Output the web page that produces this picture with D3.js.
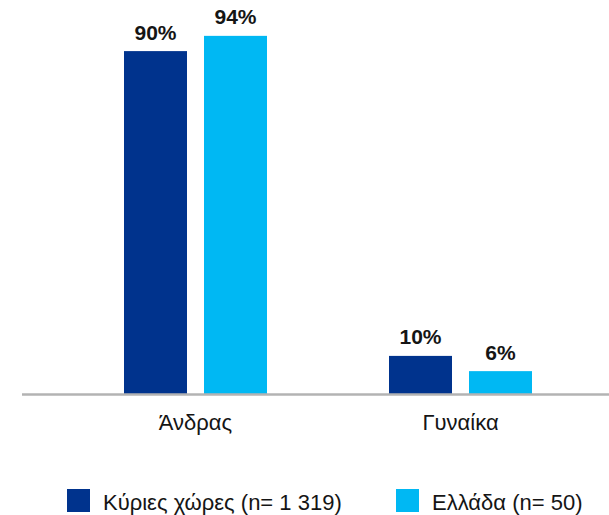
<!DOCTYPE html>
<html>
<head>
<meta charset="utf-8">
<script src="https://cdn.jsdelivr.net/npm/d3@7"></script>
<style>
	body { margin: 0; background: #fff; }
	svg { display: block; font-family: "Liberation Sans", Arial, Helvetica, sans-serif; }
</style>
</head>
<body>
<svg id="svg"></svg>
<script>
const categories = ['Άνδρας', 'Γυναίκα']
const seriesNames = ['Κύριες χώρες (n= 1 319)', 'Ελλάδα (n= 50)']
const mainValues = [90, 10]
const greeceValues = [94, 6]
const colors = ['#00338d', '#00b8f3']

const width = 609, height = 515
const baseY = 394

const svg = d3.select('#svg')
	.attr('width', width)
	.attr('height', height)

// data per group
const data = categories.map((c, i) => ({
	cat: c,
	vals: [
		{s: 0, v: mainValues[i]},
		{s: 1, v: greeceValues[i]}
	]
}))

// scales
const x = d3.scaleBand().domain(categories).range([63, 593])
const xs = d3.scaleBand().domain([0, 1])
	.range([61, 204])
	.paddingInner(17 / 80)
const y = d3.scaleLinear().domain([0, 100]).range([baseY, 13])

const groups = svg.selectAll('g.grp')
	.data(data).enter()
	.append('g')
	.attr('class', 'grp')
	.attr('transform', d => `translate(${x(d.cat)},0)`)

groups.selectAll('rect')
	.data(d => d.vals).enter()
	.append('rect')
	.attr('x', d => xs(d.s))
	.attr('y', d => y(d.v))
	.attr('width', xs.bandwidth())
	.attr('height', d => y(0) - y(d.v))
	.attr('fill', d => colors[d.s])

groups.selectAll('text.val')
	.data(d => d.vals).enter()
	.append('text')
	.attr('class', 'val')
	.attr('x', d => xs(d.s) + xs.bandwidth() / 2)
	.attr('y', d => y(d.v) - 11.5)
	.attr('text-anchor', 'middle')
	.attr('font-weight', 'bold')
	.attr('font-size', 21)
	.attr('fill', '#151515')
	.text(d => d.v + '%')

// category axis
const xAxis = svg.append('g')
	.attr('transform', `translate(0,${baseY})`)
	.call(d3.axisBottom(x).tickSize(0).tickPadding(0))
xAxis.select('.domain').remove()
xAxis.selectAll('text')
	.attr('dy', null)
	.attr('y', 36)
	.attr('font-size', 22)
	.attr('font-family', null)
	.attr('fill', '#151515')
svg.append('line')
	.attr('x1', 22).attr('x2', width)
	.attr('y1', baseY + 0.5).attr('y2', baseY + 0.5)
	.attr('stroke', '#b3b3b3')
	.attr('stroke-width', 2.5)

// legend
const legendX = [67, 396]
const legend = svg.selectAll('g.leg')
	.data(seriesNames).enter()
	.append('g')
	.attr('class', 'leg')
	.attr('transform', (d, i) => `translate(${legendX[i]},489)`)
legend.append('rect')
	.attr('width', 23)
	.attr('height', 23)
	.attr('fill', (d, i) => colors[i])
legend.append('text')
	.attr('x', 36)
	.attr('y', 21)
	.attr('font-size', 22)
	.attr('fill', '#151515')
	.text(d => d)
</script>
</body>
</html>
